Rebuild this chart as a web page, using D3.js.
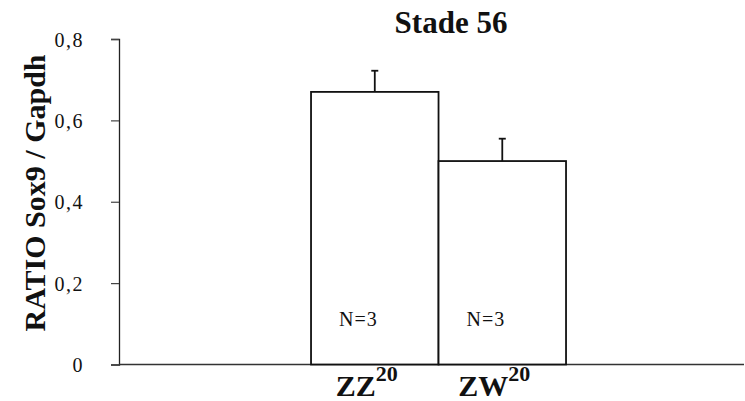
<!DOCTYPE html>
<html><head><meta charset="utf-8">
<script src="https://cdn.jsdelivr.net/npm/d3@7"></script>
<style>
html,body{margin:0;padding:0;background:#fff;}
svg{display:block;}
svg text{font-family:"Liberation Serif",serif !important;fill:#111;}
</style></head>
<body>
<svg id="chart" width="745" height="401"></svg>
<script>
const categories = ["ZZ", "ZW"];
const superscripts = ["20", "20"];
const values = [0.67, 0.50];
const errors = [0.052, 0.055];
const nLabels = ["N=3", "N=3"];
const yTicks = [0, 0.2, 0.4, 0.6, 0.8];
const yTickLabels = ["0", "0,2", "0,4", "0,6", "0,8"];
const title = "Stade 56";
const yTitle = "RATIO Sox9 / Gapdh";

const svg = d3.select("#chart");
const axisX = 119, plotRight = 744;

const y = d3.scaleLinear().domain([0, 0.8]).range([364.5, 39]);
const x = d3.scaleBand().domain(categories).range([axisX, plotRight])
  .paddingInner(0).paddingOuter(1.451).align(0.519);

// y axis
const yAxis = d3.axisLeft(y).tickValues(yTicks).tickSize(8)
  .tickFormat((d, i) => yTickLabels[i]);
const gy = svg.append("g").attr("transform", `translate(${axisX},0)`).call(yAxis)
  .attr("font-family", "Liberation Serif");
gy.select(".domain").attr("stroke", "#222").attr("stroke-width", 1.3);
gy.selectAll(".tick line").attr("stroke", "#444").attr("stroke-width", 1.2);
gy.selectAll(".tick text").attr("x", -35).attr("dy", "0.35em")
  .style("font-size", "20px").style("letter-spacing", "1.5px").attr("fill", "#111");

// baseline
svg.append("line").attr("x1", axisX).attr("x2", plotRight)
  .attr("y1", y(0)).attr("y2", y(0)).attr("stroke", "#333").attr("stroke-width", 1.6);

// bars
svg.selectAll("rect.bar").data(categories).enter().append("rect")
  .attr("class", "bar")
  .attr("x", d => x(d)).attr("width", x.bandwidth())
  .attr("y", (d, i) => y(values[i])).attr("height", (d, i) => y(0) - y(values[i]))
  .attr("fill", "#fff").attr("stroke", "#111").attr("stroke-width", 1.8);

// error bars
const eb = svg.selectAll("g.err").data(categories).enter().append("g").attr("class", "err");
eb.append("line")
  .attr("x1", d => x(d) + x.bandwidth() / 2).attr("x2", d => x(d) + x.bandwidth() / 2)
  .attr("y1", (d, i) => y(values[i])).attr("y2", (d, i) => y(values[i] + errors[i]))
  .attr("stroke", "#111").attr("stroke-width", 1.8);
eb.append("line")
  .attr("x1", d => x(d) + x.bandwidth() / 2 - 3.5).attr("x2", d => x(d) + x.bandwidth() / 2 + 3.5)
  .attr("y1", (d, i) => y(values[i] + errors[i])).attr("y2", (d, i) => y(values[i] + errors[i]))
  .attr("stroke", "#111").attr("stroke-width", 1.8);

// N labels
svg.selectAll("text.n").data(categories).enter().append("text")
  .attr("class", "n")
  .attr("x", d => x(d) + 28).attr("y", y(0) - 39)
  .style("font-size", "20px").style("letter-spacing", "1px")
  .text((d, i) => nLabels[i]);

// x category labels
const xl = svg.selectAll("text.xl").data(categories).enter().append("text")
  .attr("class", "xl")
  .attr("x", d => x(d) + x.bandwidth() / 2 - 8).attr("y", 396)
  .attr("text-anchor", "middle")
  .style("font-weight", "bold").style("font-size", "30px");
xl.append("tspan").text(d => d);
xl.append("tspan").attr("dy", -15).style("font-size", "22px").text((d, i) => superscripts[i]);

// title
svg.append("text").attr("x", 451).attr("y", 33).attr("text-anchor", "middle")
  .style("font-weight", "bold").style("font-size", "31px").text(title);

// y title
svg.append("text").attr("transform", "translate(45,193) rotate(-90)")
  .attr("text-anchor", "middle")
  .style("font-weight", "bold").style("font-size", "30px").text(yTitle);
</script>
</body></html>
